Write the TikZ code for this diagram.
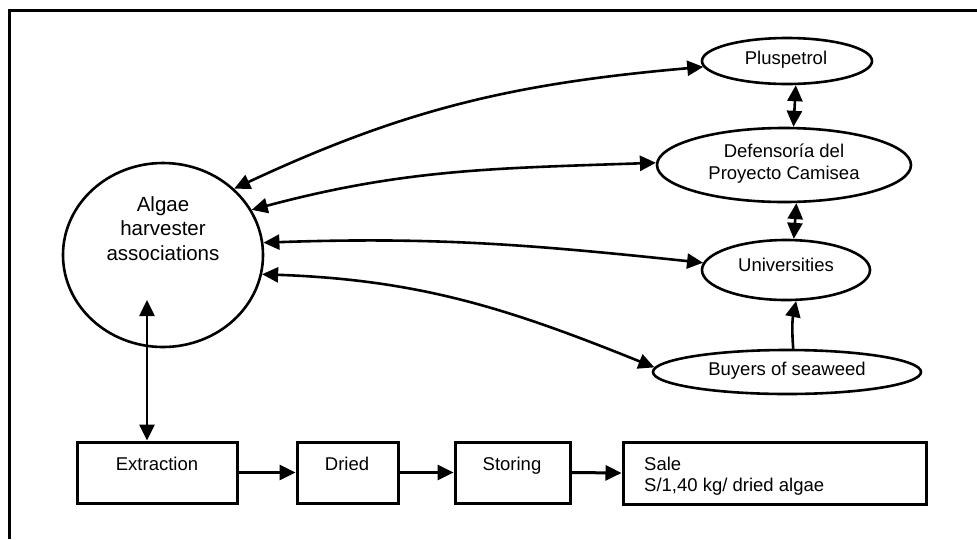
\documentclass[tikz,border=0pt]{standalone}
\usepackage{fontspec}
\setmainfont{Liberation Sans}
\usetikzlibrary{arrows.meta,shapes.geometric}
\begin{document}
\begin{tikzpicture}[x=1pt,y=1pt,
  shp/.style={draw, line width=2.6pt, ellipse, inner sep=0pt},
  boxn/.style={draw, line width=3pt, rectangle, inner sep=0pt},
  txt/.style={font=\fontsize{18.5}{22}\selectfont, inner sep=0pt},
  link/.style={line width=2.6pt, {Triangle[length=16pt,width=15pt]}-{Triangle[length=16pt,width=15pt]}},
  onearrow/.style={line width=2.6pt, -{Triangle[length=16pt,width=15pt]}},
  flow/.style={line width=3pt, -{Triangle[length=16pt,width=15pt]}}]
\useasboundingbox (0,0) rectangle (977,-539);
\draw[line width=3pt] (977,-10) -- (9,-10) -- (9,-539);

% ellipses
\node[shp, minimum width=200pt, minimum height=184pt] (big) at (163,-255) {};
\node[shp, minimum width=170pt, minimum height=46pt] (plus) at (787,-61) {};
\node[shp, minimum width=254pt, minimum height=74pt] (def) at (784,-165) {};
\node[shp, minimum width=168pt, minimum height=60pt] (univ) at (786,-270) {};
\node[shp, minimum width=268pt, minimum height=44pt] (buy) at (787,-372) {};

% boxes
\node[boxn, minimum width=160pt, minimum height=61pt] (ext) at (157,-472.5) {};
\node[boxn, minimum width=101pt, minimum height=61pt] (dried) at (347.5,-472.5) {};
\node[boxn, minimum width=115pt, minimum height=61pt] (stor) at (512.5,-472.5) {};
\node[boxn, minimum width=303pt, minimum height=62pt] (sale) at (774.5,-473) {};

% texts
\node[txt, align=center, font=\fontsize{20.5}{24.5}\selectfont] (bigtxt) at (163,-228.5) {Algae\\harvester\\associations};
\node[txt, anchor=base] (plustxt) at (786,-64) {Pluspetrol};
\node[txt, align=center] (deftxt) at (784,-163.5) {Defensoría del\\Proyecto Camisea};
\node[txt, anchor=base] (univtxt) at (786,-271) {Universities};
\node[txt, anchor=base] (buytxt) at (787,-375) {Buyers of seaweed};
\node[txt, anchor=base] (exttxt) at (157,-470) {Extraction};
\node[txt, anchor=base] (driedtxt) at (347,-470) {Dried};
\node[txt, anchor=base] (stortxt) at (512,-470) {Storing};
\node[txt, anchor=base west] (saletxt) at (644,-470) {Sale};
\node[txt, anchor=base west] (pricetxt) at (644,-491) {S/1,40 kg/ dried algae};

% connectors from the associations
\draw[link] (big.43) to[out=25,in=185] (plus.184);
\draw[link] (big.27) to[out=15,in=182] (def.179);
\draw[link] (big.7) to[out=2,in=174] (univ.175);
\draw[link] (big.-11) to[out=-2,in=158] (buy.178);

% right column
\draw[link] (plus.-70) -- (def.76);
\draw[link] (def.-72) -- (univ.76);
\draw[onearrow] (buy.75) to[bend left=8] (univ.-72);

% vertical
\coordinate (bigin) at (147,-300);
\draw[link] (bigin) -- (bigin |- ext.north);

% process chain
\draw[flow] (ext.east) -- (dried.west);
\draw[flow] (dried.east) -- (stor.west);
\draw[flow] (stor.east) -- (sale.west);
\end{tikzpicture}
\end{document}
